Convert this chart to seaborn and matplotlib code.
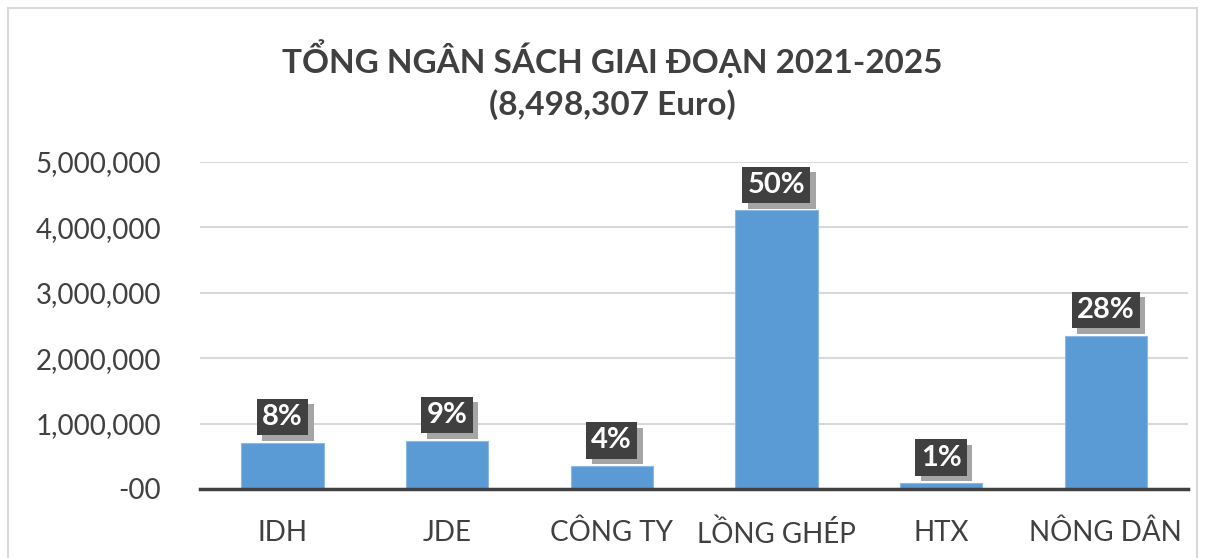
import matplotlib.pyplot as plt
import seaborn as sns
import pandas as pd
import numpy as np
from matplotlib.patches import Rectangle
from matplotlib.ticker import FuncFormatter
import matplotlib.patheffects as pe

categories = ["IDH", "JDE", "CÔNG TY", "LỒNG GHÉP", "HTX", "NÔNG DÂN"]
budget = [710000, 740000, 355000, 4260000, 90000, 2345000]
pct_labels = ["8%", "9%", "4%", "50%", "1%", "28%"]

sns.set_theme(style="white")
plt.rcParams['font.family'] = ['Lato', 'DejaVu Sans']

df = pd.DataFrame({"group": categories, "amount": budget})

fig = plt.figure(figsize=(12.07, 5.58), dpi=100)
ax = fig.add_axes([0.1657, 0.1237, 0.8186, 0.586])

sns.barplot(data=df, x="group", y="amount", color="#5B9BD5", width=0.5,
            saturation=1, ax=ax, edgecolor="#8DB8E3", linewidth=0.8)

ax.set_ylim(0, 5000000)
ax.set_xlim(-0.5, len(categories) - 0.5)
ax.set_yticks(np.arange(0, 5000001, 1000000))
ax.yaxis.set_major_formatter(FuncFormatter(lambda v, p: "-00" if v == 0 else f"{int(v):,}"))
ax.grid(axis="y", color="#D9D9D9", linewidth=1.5)
ax.set_axisbelow(True)
ax.set_xlabel("")
ax.set_ylabel("")

for s in ["left", "right", "top"]:
    ax.spines[s].set_visible(False)
ax.spines["bottom"].set_color("#404040")
ax.spines["bottom"].set_linewidth(2.5)

ax.tick_params(axis="y", length=0, labelsize=20, labelcolor="#404040", pad=28)
ax.tick_params(axis="x", which="major", length=0, labelsize=20, labelcolor="#404040", pad=22)
ax.set_xticks(np.arange(-0.5, len(categories)), minor=True)
ax.tick_params(axis="x", which="minor", length=7, width=2.5, color="#404040", direction="out")

# percentage labels: dark box with a grey drop shadow
for i, (v, lab) in enumerate(zip(budget, pct_labels)):
    t = ax.annotate(lab, (i, v), xytext=(0, 9), textcoords="offset points",
                    ha="center", va="bottom", fontsize=21, fontweight="bold", color="white",
                    bbox=dict(boxstyle="square,pad=0.18", fc="#404040", ec="none"))
    t.get_bbox_patch().set_path_effects([
        pe.SimplePatchShadow(offset=(4, -4), shadow_rgbFace="#A5A5A5", alpha=1),
        pe.Normal()])

fig.text(0.507, 0.895, "TỔNG NGÂN SÁCH GIAI ĐOẠN 2021-2025", ha="center", va="center",
         fontsize=24, fontweight="bold", color="#404040")
fig.text(0.507, 0.812, "(8,498,307 Euro)", ha="center", va="center",
         fontsize=24, fontweight="bold", color="#404040")

fig.patches.append(Rectangle((0.007, -0.01), 0.985, 0.995, transform=fig.transFigure,
                             fill=False, edgecolor="#D9D9D9", linewidth=1.5))

fig.savefig("out.png", dpi=100)
